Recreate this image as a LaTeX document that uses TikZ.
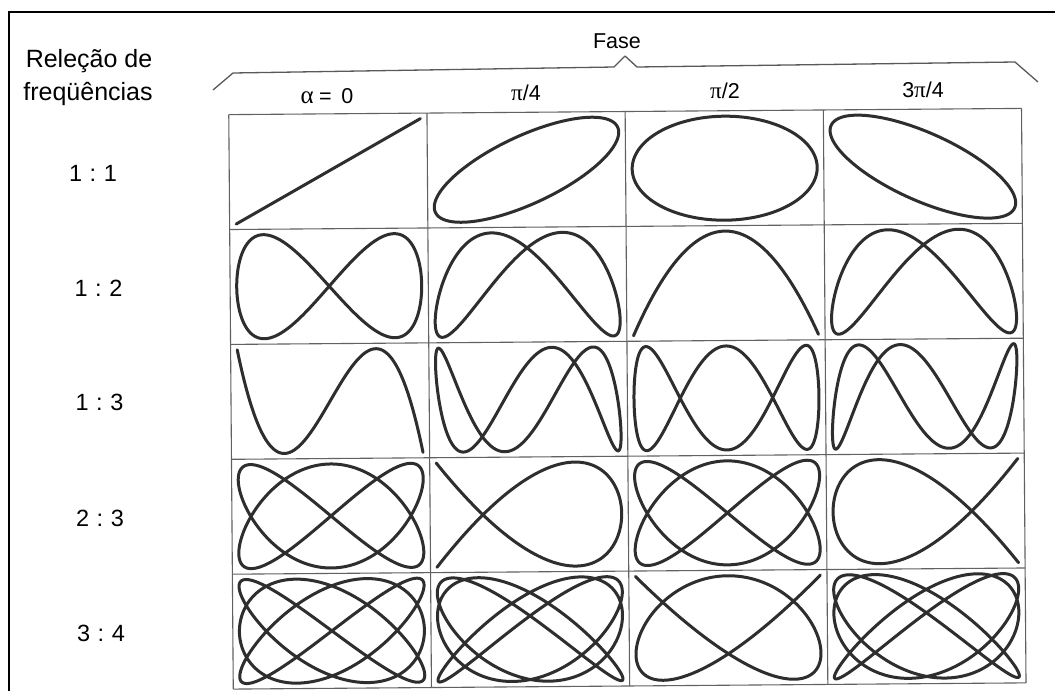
\documentclass[tikz,border=0pt]{standalone}
\usepackage{fontspec}
\setmainfont{Liberation Sans}
\newfontfamily\grk{Liberation Serif}
\begin{document}
\begin{tikzpicture}[x=1pt,y=-1pt,
  curve/.style={line width=3pt, color=black!82, line join=round, line cap=round},
  gridline/.style={line width=1.1pt, color=black!62},
  bracepath/.style={line width=1.3pt, color=black!65, line join=round},
  framepath/.style={line width=2pt, color=black},
  headlbl/.style={font=\fontsize{25}{30}\selectfont, inner sep=0pt, anchor=base},
  rowlbl/.style={font=\fontsize{23.5}{28}\selectfont, inner sep=0pt},
  collbl/.style={font=\fontsize{21.5}{26}\selectfont, inner sep=0pt, anchor=base},
  faselbl/.style={font=\fontsize{21.5}{26}\selectfont, inner sep=0pt, anchor=base}]
\useasboundingbox (0,0) rectangle (1055,691);
\fill[white] (0,0) rectangle (1055,691);
% outer frame (left and top edges visible)
\coordinate (fbl) at (9,691);
\coordinate (ftl) at (9,12);
\coordinate (ftr) at (1055,12);
\draw[framepath] (fbl) -- (ftl) -- (ftr);

% header texts
\node[headlbl] (rel1) at (89,67) {Releção de};
\node[headlbl] (rel2) at (88,100) {freqüências};
\node[faselbl] (fase) at (617,48) {Fase};

% brace over the columns
\coordinate (b1) at (213,90);
\coordinate (b2) at (233,73);
\coordinate (b3) at (614,67);
\coordinate (b4) at (625,56);
\coordinate (b5) at (637,67);
\coordinate (b6) at (1015,62);
\coordinate (b7) at (1038,82);
\draw[bracepath] (b1) -- (b2) -- (b3) -- (b4) -- (b5) -- (b6) -- (b7);

% column labels
\node[collbl] (c0) at (327,103) {{\grk\fontsize{25}{28}\selectfont α}\hspace{0.25em}=\hspace{0.45em}0};
\node[collbl] (c1) at (526,100) {{\grk\fontsize{23}{28}\selectfont π}/4};
\node[collbl] (c2) at (725,98) {{\grk\fontsize{23}{28}\selectfont π}/2};
\node[collbl] (c3) at (923,97) {3{\grk\fontsize{23}{28}\selectfont π}/4};

% row labels
\node[rowlbl] (r0) at (93,173) {1\hspace{0.32em}:\hspace{0.32em}1};
\node[rowlbl] (r1) at (98.5,288.5) {1\hspace{0.32em}:\hspace{0.32em}2};
\node[rowlbl] (r2) at (99.5,402.5) {1\hspace{0.32em}:\hspace{0.32em}3};
\node[rowlbl] (r3) at (100,518.5) {2\hspace{0.32em}:\hspace{0.32em}3};
\node[rowlbl] (r4) at (101,633.5) {3\hspace{0.32em}:\hspace{0.32em}4};

\begin{scope}[rotate around={0.45:(627,400)}]
  % grid
  \foreach \i in {0,...,4} {
    \draw[gridline] ({231+198.2*\i},111.5) -- ({231+198.2*\i},686);
  }
  \foreach \j in {0,...,5} {
    \draw[gridline] (231,{111.5+114.9*\j}) -- (1023.8,{111.5+114.9*\j});
  }
  % Lissajous figures
  \foreach \r/\a/\b in {0/1/1,1/1/2,2/1/3,3/2/3,4/3/4} {
    \pgfmathsetmacro\cy{111.5+114.9*(\r+0.5)}
    \foreach \c/\p in {0/0,1/45,2/90,3/135} {
      \pgfmathsetmacro\cx{231+198.2*(\c+0.5)}
      \draw[curve] plot[domain=0:360, samples=541, variable=\t]
        ({\cx+92.5*sin(\a*\t)}, {\cy-52*sin(\b*\t+\p)});
    }
  }
\end{scope}
\end{tikzpicture}
\end{document}
